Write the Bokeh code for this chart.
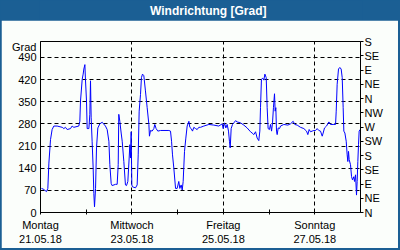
from bokeh.plotting import figure
from bokeh.layouts import column
from bokeh.models import Range1d, LinearAxis, FixedTicker, Label
from bokeh.embed import file_html
from bokeh.resources import INLINE

# hours since Monday 21.05.18 00:00
hours = [0.5, 1.4, 2.1, 3.15, 3.85, 4.4, 5.25, 6.1, 7.0, 8.75, 11.4, 12.25, 13.1, 14.0, 15.75, 16.6, 17.5,
         20.1, 20.65, 21.0, 21.9, 22.4, 22.75, 23.3, 23.6, 24.15, 24.5, 25.4, 25.9, 26.25, 26.6, 27.1, 27.65,
         28.0, 28.35, 28.9, 29.4, 30.1, 31.15, 32.4, 34.1, 35.0, 35.9, 36.4, 37.1, 37.6, 39.4, 40.25, 40.8,
         41.1, 41.65, 42.35, 42.9, 43.75, 44.6, 45.15, 45.85, 46.55, 46.9, 47.25, 47.6, 47.95, 48.3, 49.9,
         50.75, 51.3, 51.8, 52.5, 53.0, 53.55, 54.25, 55.1, 56.0, 56.9, 57.2, 57.75, 58.6, 59.5, 60.0, 60.7,
         61.6, 63.0, 67.4, 68.25, 68.8, 69.3, 70.0, 70.9, 71.75, 72.6, 73.15, 73.85, 74.4, 74.9, 75.6, 76.3,
         77.0, 77.9, 78.4, 79.1, 79.8, 80.5, 81.4, 82.25, 83.1,
         84.0, 85.75, 88.4, 91.0, 93.6, 95.4, 95.9, 96.6, 97.3, 98.0, 98.7, 99.2, 99.6, 100.1, 100.8, 101.5,
         102.4, 103.25, 105.0, 106.75, 108.5, 110.25, 111.1, 112.0, 112.9, 113.75, 114.6, 115.15, 115.5,
         116.0, 116.7, 117.25, 117.8, 118.5, 119.0, 119.5, 120.2, 120.75, 121.3, 121.8, 122.3, 122.85, 123.2,
         123.55, 123.9, 124.25, 124.8, 125.5, 126.0, 127.75, 129.85, 131.25, 132.65, 133.5, 134.75, 136.5,
         138.25, 139.65, 140.35, 141.05, 141.75, 142.6, 143.5, 144.4, 145.25, 146.1, 147.0, 147.9, 148.4,
         149.1, 150.15, 151.4, 152.25, 153.65, 154.9, 155.25, 155.75, 156.45, 157.15, 157.85, 158.4, 158.9,
         159.25, 159.8, 160.5, 161.0, 161.35, 161.7, 162.05, 162.75, 163.3, 163.8, 164.5, 164.85, 165.4,
         165.9, 166.25, 166.6, 166.95, 167.3, 167.8]
direction = [76, 74, 71, 66, 76, 156, 230, 262, 273, 273, 269, 265, 269, 262, 265, 273, 269,
             273, 288, 352, 421, 437, 453, 467, 421, 352, 265, 265, 310, 416, 299, 225, 140,
             60, 18, 76, 204, 267, 280, 285, 273, 262, 225, 151, 92, 85, 89, 89, 151,
             310, 288, 251, 225, 161, 87, 85, 98, 172, 214, 172, 255, 87, 81, 78,
             87, 182, 320, 373, 426, 437, 432, 384, 331, 278, 241, 259, 257, 265, 278, 265,
             257, 259, 259, 257, 225, 182, 140, 76, 76, 98, 76, 87, 71, 98, 193, 235,
             273, 288, 269, 265, 257, 269, 265, 262, 269,
             269, 273, 278, 276, 273, 280, 265, 283, 267, 278, 257, 225, 204, 265, 278, 283,
             290, 286, 283, 276, 267, 255, 251, 246, 255, 235, 227, 257, 331,
             421, 424, 418, 437, 426, 331, 265, 262, 278, 257, 283, 331, 375, 320,
             331, 257, 246, 267, 265, 273, 278, 276, 280, 288, 278, 276, 269,
             265, 257, 246, 262, 255, 257, 259, 259, 265, 259, 257, 241, 251,
             267, 273, 286, 278, 278, 278, 320, 405, 453, 458, 453, 426, 331,
             257, 251, 225, 182, 161, 193, 167, 151, 113, 103, 113, 98, 119,
             55, 98, 161, 214, 257, 262]

x_major = [0, 48, 96, 144]
x_minor = [24, 72, 120]
x_labels = ["Montag\n21.05.18", "Mittwoch\n23.05.18", "Freitag\n25.05.18", "Sonntag\n27.05.18"]
y_ticks = [0, 70, 140, 210, 280, 350, 420, 490]
y_unit_pos = 524
y_unit_label = "Grad"
compass_ticks = [0, 45, 90, 135, 180, 225, 270, 315, 360, 405, 450, 495, 540]
compass_labels = ["N", "NE", "E", "SE", "S", "SW", "W", "NW", "N", "NE", "E", "SE", "S"]

title_text = "Windrichtung [Grad]"

BLUE = "#1b5f94"
BG = "#fbfefb"
FONT = "Liberation Sans"

# ---- title band ----
top = figure(width=400, height=20, output_backend="svg", toolbar_location=None,
             x_range=Range1d(0, 400), y_range=Range1d(0, 20),
             x_axis_location=None, y_axis_location=None,
             min_border=0, min_border_left=0, min_border_right=0, min_border_top=0, min_border_bottom=0,
             background_fill_color=BLUE, border_fill_color=BLUE, outline_line_color=None)
top.grid.visible = False
top.add_layout(Label(x=209, y=10, text=title_text,
                     text_align="center", text_baseline="middle", text_color="white",
                     text_font=FONT, text_font_style="bold", text_font_size="12px"))

# ---- main chart ----
p = figure(width=397, height=228, output_backend="svg", toolbar_location=None,
           x_range=Range1d(0, 168), y_range=Range1d(0, 540),
           min_border_left=39, min_border_right=38, min_border_top=21, min_border_bottom=36,
           background_fill_color=BG, border_fill_color=BG, outline_line_color="black",
           margin=(0, 2, 2, 1))

p.line(hours, direction, line_color="#0000ff", line_width=1)

# x axis
xa = p.xaxis[0]
xa.ticker = FixedTicker(ticks=x_major, minor_ticks=x_minor)
xa.major_label_overrides = {k: v for k, v in zip(x_major, x_labels)}
xa.major_tick_in = 3
xa.major_tick_out = 2
xa.minor_tick_in = 3
xa.minor_tick_out = 2
xa.major_label_standoff = 4
xa.major_label_text_font = FONT
xa.major_label_text_font_size = "11px"
xa.major_label_text_color = "black"
xa.axis_line_color = "black"
xa.major_tick_line_color = "black"
xa.minor_tick_line_color = "black"

# left axis (with the unit shown at the top)
ya = p.yaxis[0]
ya.ticker = FixedTicker(ticks=y_ticks + [y_unit_pos])
ya.major_label_overrides = {y_unit_pos: y_unit_label}
ya.major_tick_in = 0
ya.major_tick_out = 0
ya.minor_tick_line_color = None
ya.major_label_standoff = 4
ya.major_label_text_font = FONT
ya.major_label_text_font_size = "11px"
ya.major_label_text_color = "black"
ya.axis_line_color = "black"

# right axis (compass)
ra = LinearAxis(ticker=FixedTicker(ticks=compass_ticks),
                major_label_overrides={k: v for k, v in zip(compass_ticks, compass_labels)})
ra.major_tick_in = 0
ra.major_tick_out = 3
ra.minor_tick_line_color = None
ra.major_label_standoff = 1
ra.major_label_text_font = FONT
ra.major_label_text_font_size = "11px"
ra.major_label_text_color = "black"
ra.axis_line_color = "black"
p.add_layout(ra, "right")

# grids
p.xgrid.ticker = FixedTicker(ticks=x_major[1:])
p.ygrid.ticker = FixedTicker(ticks=y_ticks[1:])
for g in (p.xgrid[0], p.ygrid[0]):
    g.grid_line_color = "black"
    g.grid_line_dash = "4 3"
    g.grid_line_width = 1

layout = column(top, p, spacing=0, styles={"background-color": BLUE})

open("out.html", "w").write(file_html(layout, INLINE))
